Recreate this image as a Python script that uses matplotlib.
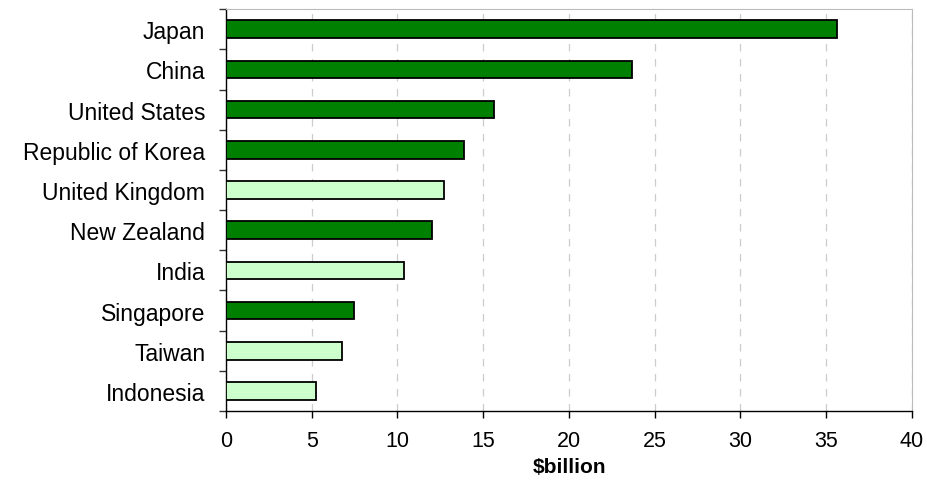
import matplotlib.pyplot as plt
import numpy as np

plt.rcParams['font.family'] = ['Liberation Sans', 'DejaVu Sans']

# data
countries = ["Japan", "China", "United States", "Republic of Korea", "United Kingdom",
             "New Zealand", "India", "Singapore", "Taiwan", "Indonesia"]
values = [35.6, 23.7, 15.6, 13.9, 12.7, 12.0, 10.4, 7.45, 6.75, 5.25]
is_dark = [True, True, True, True, False, True, False, True, False, False]

DARK = "#008000"
LIGHT = "#CCFFCC"
colors = [DARK if d else LIGHT for d in is_dark]

fig = plt.figure(figsize=(9.27, 4.85), dpi=100)
ax = fig.add_axes([0.2438, 0.1505, 0.74, 0.8285])

y = np.arange(len(countries))[::-1]
ax.barh(y, values, height=0.44, color=colors, edgecolor="black", linewidth=1.3, zorder=3)

ax.set_xlim(0, 40)
ax.set_ylim(-0.5, len(countries) - 0.5)
ax.set_xticks(np.arange(0, 41, 5))
ax.set_yticks(y)
ax.set_yticklabels(countries, fontsize=16.5)
ax.set_yticks(np.arange(-0.5, len(countries), 1), minor=True)
ax.tick_params(axis="y", which="major", length=0, pad=15)
ax.tick_params(axis="y", which="minor", length=5, width=1, color="#333333")
ax.tick_params(axis="x", length=5, width=1, labelsize=15.5, pad=9)

ax.grid(axis="x", linestyle=(0, (6, 6)), color="#cccccc", linewidth=0.9, zorder=0)

for side in ["top", "right"]:
    ax.spines[side].set_color("#bbbbbb")
for side in ["left", "bottom"]:
    ax.spines[side].set_color("black")
    ax.spines[side].set_linewidth(1)

ax.set_xlabel(r"\$billion", fontsize=15, fontweight="bold", labelpad=4)

plt.savefig("out.png", dpi=100)
